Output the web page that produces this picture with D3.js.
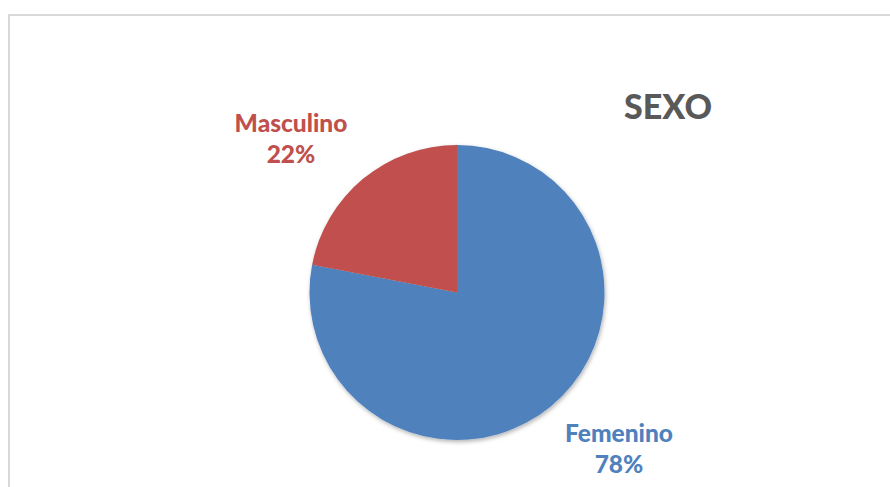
<!DOCTYPE html>
<html>
<head>
<meta charset="utf-8">
<script src="https://cdn.jsdelivr.net/npm/d3@7"></script>
<style>
  body { margin: 0; background: #fff; }
  text { font-family: Lato, "Open Sans", sans-serif; font-weight: 900; }
</style>
</head>
<body>
<div id="chart"></div>
<script>
var categories = ["Femenino", "Masculino"];
var values = [78, 22];
var colors = ["#4f81bd", "#c0504d"];
var titleText = "SEXO";

var width = 890, height = 487;
var cx = 457, cy = 292.5, radius = 147.5;

var svg = d3.select("#chart").append("svg")
  .attr("width", width)
  .attr("height", height);

// chart frame (runs off the right and bottom edges)
svg.append("rect")
  .attr("x", 9).attr("y", 15)
  .attr("width", 900).attr("height", 500)
  .attr("fill", "none")
  .attr("stroke", "#d9d9d9")
  .attr("stroke-width", 2);

var defs = svg.append("defs");
var f = defs.append("filter").attr("id", "shadow")
  .attr("x", "-10%").attr("y", "-10%").attr("width", "120%").attr("height", "120%");
f.append("feDropShadow")
  .attr("dx", 1).attr("dy", 2).attr("stdDeviation", 2)
  .attr("flood-color", "#000").attr("flood-opacity", 0.3);

var pie = d3.pie().sort(null).value(d => d.value);
var arc = d3.arc().innerRadius(0).outerRadius(radius);

var data = categories.map((c, i) => ({ name: c, value: values[i], color: colors[i] }));
var total = d3.sum(values);

var g = svg.append("g").attr("transform", `translate(${cx},${cy})`);
g.append("g").attr("filter", "url(#shadow)")
  .selectAll("path")
  .data(pie(data))
  .enter().append("path")
  .attr("d", arc)
  .attr("fill", d => d.data.color);

// labels sit outside the pie, like Excel's "best fit"
var labelPos = { "Femenino": [619, 441.5], "Masculino": [291, 131.5] };

data.forEach(function (d) {
  var p = labelPos[d.name];
  var t = svg.append("text")
    .attr("x", p[0]).attr("y", p[1])
    .attr("text-anchor", "middle")
    .attr("fill", d.color)
    .style("font-size", "24.5px");
  t.append("tspan").attr("x", p[0]).text(d.name);
  t.append("tspan").attr("x", p[0]).attr("dy", 31.5)
    .text(Math.round(d.value / total * 100) + "%");
});

svg.append("text")
  .attr("x", 668).attr("y", 119)
  .attr("text-anchor", "middle")
  .attr("fill", "#595959")
  .style("font-size", "34px")
  .text(titleText);
</script>
</body>
</html>
